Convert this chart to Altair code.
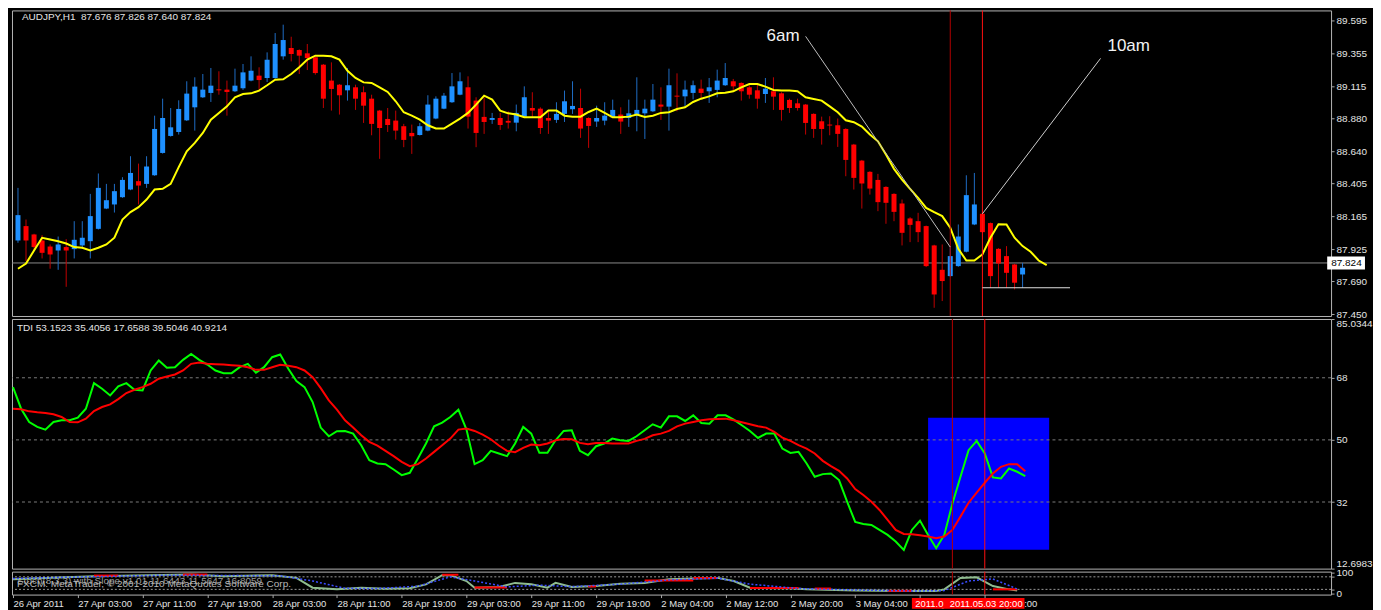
import altair as alt
import pandas as pd

# ---------------- data ----------------
opens = [87.988, 88.093, 88.032, 87.988, 87.944, 87.915, 87.940, 87.925, 87.952, 87.983,
         88.073, 88.221, 88.251, 88.304, 88.360, 88.421, 88.401, 88.464, 88.627, 88.751,
         88.780, 88.865, 88.960, 89.033, 89.065, 89.091, 89.089, 89.077, 89.099, 89.155,
         89.191, 89.174, 89.174, 89.332, 89.393, 89.378, 89.354, 89.325, 89.271, 89.155,
         89.125, 89.084, 89.106, 89.070, 89.023, 88.936, 88.875, 88.863, 88.822, 88.773,
         88.758, 88.790, 88.878, 88.950, 88.997, 89.052, 89.106, 89.009, 88.890, 88.868,
         88.882, 88.861, 88.848, 88.892, 88.955, 88.950, 88.882, 88.868, 88.912, 88.946,
         88.955, 88.882, 88.856, 88.863, 88.887, 88.907, 88.882, 88.902, 88.916, 88.931,
         88.980, 88.965, 89.045, 89.040, 89.065, 89.096, 89.077, 89.087, 89.121, 89.150,
         89.138, 89.106, 89.084, 89.057, 89.077, 89.062, 89.014, 88.989, 88.980, 88.912,
         88.858, 88.834, 88.829, 88.802, 88.688, 88.571, 88.489, 88.430, 88.379, 88.328,
         88.258, 88.149, 88.129, 88.093, 87.952, 87.774, 87.728, 87.801, 87.906, 88.105,
         88.183, 88.115, 87.927, 87.874, 87.813, 87.740]
highs = [88.372, 88.141, 88.037, 88.027, 87.959, 88.017, 87.998, 88.129, 88.129, 88.328,
         88.477, 88.401, 88.401, 88.450, 88.603, 88.549, 88.603, 88.899, 89.023, 88.955,
         89.011, 89.150, 89.179, 89.203, 89.247, 89.223, 89.155, 89.242, 89.276, 89.332,
         89.252, 89.361, 89.502, 89.563, 89.475, 89.383, 89.422, 89.330, 89.276, 89.288,
         89.130, 89.247, 89.125, 89.113, 89.052, 88.941, 88.955, 88.936, 88.839, 88.834,
         88.846, 89.048, 89.040, 89.065, 89.210, 89.215, 89.186, 89.033, 89.033, 88.919,
         88.919, 88.931, 88.980, 89.113, 89.070, 88.960, 88.931, 88.997, 89.082, 89.150,
         89.096, 88.887, 88.972, 88.997, 89.016, 88.960, 89.016, 89.179, 89.016, 89.130,
         89.106, 89.242, 89.208, 89.155, 89.155, 89.162, 89.174, 89.235, 89.283, 89.167,
         89.142, 89.121, 89.130, 89.174, 89.179, 89.070, 89.023, 89.023, 88.984, 88.916,
         88.892, 88.895, 88.878, 88.807, 88.693, 88.576, 88.494, 88.474, 88.384, 88.333,
         88.287, 88.158, 88.190, 88.097, 87.957, 87.959, 87.947, 88.105, 88.464, 88.481,
         88.188, 88.119, 87.932, 87.947, 87.818, 87.825]
lows = [87.971, 87.837, 87.910, 87.857, 87.782, 87.774, 87.650, 87.857, 87.930, 87.857,
        88.068, 88.217, 88.192, 88.299, 88.355, 88.251, 88.372, 88.460, 88.622, 88.746,
        88.761, 88.860, 88.790, 89.028, 88.999, 89.052, 88.899, 89.072, 89.087, 89.150,
        89.089, 89.145, 89.169, 89.308, 89.295, 89.203, 89.232, 89.198, 88.955, 88.936,
        88.907, 89.009, 88.941, 88.846, 88.756, 88.584, 88.780, 88.724, 88.669, 88.620,
        88.754, 88.785, 88.873, 88.946, 88.992, 89.048, 88.805, 88.669, 88.766, 88.839,
        88.795, 88.805, 88.785, 88.887, 88.882, 88.766, 88.766, 88.846, 88.853, 88.912,
        88.737, 88.664, 88.817, 88.829, 88.882, 88.766, 88.817, 88.785, 88.729, 88.926,
        88.868, 88.790, 88.931, 88.967, 89.018, 89.023, 88.992, 89.033, 89.116, 89.077,
        89.009, 89.023, 88.950, 88.992, 88.941, 88.863, 88.919, 88.936, 88.761, 88.737,
        88.688, 88.756, 88.671, 88.457, 88.360, 88.221, 88.323, 88.202, 88.110, 88.129,
        87.952, 87.976, 87.976, 87.794, 87.497, 87.546, 87.723, 87.796, 87.901, 88.100,
        88.044, 87.643, 87.643, 87.643, 87.631, 87.643]
closes = [88.173, 87.988, 87.940, 87.898, 87.886, 87.959, 87.915, 87.993, 88.008, 88.166,
          88.372, 88.282, 88.348, 88.430, 88.481, 88.389, 88.528, 88.802, 88.882, 88.814,
          88.948, 89.060, 89.111, 89.089, 89.118, 89.084, 89.072, 89.118, 89.215, 89.227,
          89.159, 89.308, 89.422, 89.451, 89.349, 89.337, 89.320, 89.210, 89.023, 89.094,
          89.048, 89.121, 89.023, 88.972, 88.839, 88.809, 88.831, 88.790, 88.722, 88.749,
          88.822, 88.980, 89.023, 89.045, 89.113, 89.150, 88.892, 88.773, 88.853, 88.882,
          88.831, 88.848, 88.919, 89.033, 88.936, 88.809, 88.863, 88.912, 89.004, 88.970,
          88.805, 88.824, 88.882, 88.899, 88.941, 88.856, 88.916, 88.941, 88.950, 89.016,
          88.965, 89.121, 89.038, 89.089, 89.121, 89.065, 89.106, 89.155, 89.174, 89.113,
          89.077, 89.052, 89.023, 89.096, 89.038, 88.941, 88.955, 88.955, 88.846, 88.802,
          88.802, 88.827, 88.766, 88.576, 88.445, 88.404, 88.367, 88.268, 88.263, 88.197,
          88.044, 88.102, 88.049, 87.801, 87.594, 87.692, 87.874, 88.017, 88.319, 88.251,
          88.049, 87.728, 87.820, 87.752, 87.680, 87.789]
# shifted moving average (runs 3 bars past the last candle)
ma_values = [87.782, 87.820, 87.915, 88.008, 87.995, 87.983, 87.966, 87.940, 87.935, 87.915,
             87.935, 87.959, 88.008, 88.141, 88.195, 88.231, 88.287, 88.360, 88.365, 88.401,
             88.523, 88.639, 88.700, 88.773, 88.870, 88.919, 88.967, 89.033, 89.057, 89.062,
             89.082, 89.121, 89.162, 89.164, 89.203, 89.252, 89.308, 89.337, 89.337, 89.332,
             89.308, 89.227, 89.174, 89.142, 89.138, 89.106, 89.072, 89.004, 88.924, 88.899,
             88.870, 88.829, 88.805, 88.805, 88.841, 88.878, 88.919, 88.980, 89.045, 89.016,
             88.936, 88.916, 88.907, 88.887, 88.887, 88.887, 88.936, 88.936, 88.899, 88.892,
             88.892, 88.926, 88.950, 88.919, 88.887, 88.887, 88.892, 88.907, 88.890, 88.899,
             88.919, 88.924, 88.948, 88.960, 88.999, 89.023, 89.040, 89.062, 89.067, 89.077,
             89.106, 89.130, 89.130, 89.111, 89.087, 89.082, 89.082, 89.077, 89.033, 89.021,
             89.009, 88.967, 88.924, 88.865, 88.851, 88.819, 88.761, 88.712, 88.615, 88.511,
             88.433, 88.365, 88.299, 88.226, 88.195, 88.166, 88.081, 87.927, 87.842, 87.842,
             87.886, 88.008, 88.107, 88.105, 88.008, 87.947, 87.906, 87.842, 87.808]
price_ticks = [89.595, 89.355, 89.115, 88.880, 88.640, 88.405, 88.165, 87.925, 87.690, 87.450]
last_price = 87.824

tdi_green = [65.30, 59.04, 55.19, 53.75, 52.98, 55.19, 55.67, 55.67, 56.44, 59.04,
             66.45, 64.82, 62.89, 65.49, 66.45, 64.53, 64.34, 70.11, 73.00, 70.88,
             71.07, 73.19, 74.92, 73.19, 71.84, 70.11, 69.34, 69.34, 71.07, 72.04,
             69.44, 71.07, 73.96, 74.73, 70.59, 67.03, 65.30, 60.97, 53.56, 51.05,
             52.50, 52.59, 51.82, 48.46, 44.12, 43.16, 42.97, 41.43, 39.79, 40.47,
             44.61, 48.94, 53.94, 55.00, 56.64, 58.75, 52.98, 42.97, 44.12, 46.82,
             46.05, 45.28, 48.94, 53.75, 51.82, 46.24, 46.24, 49.90, 52.59, 52.79,
             46.82, 45.57, 48.17, 48.94, 50.38, 49.90, 49.71, 51.05, 52.79, 54.52,
             53.56, 56.83, 56.83, 55.48, 57.12, 54.90, 54.71, 57.12, 57.12, 55.87,
             54.23, 52.59, 50.57, 51.82, 51.82, 47.49, 46.24, 46.53, 43.16, 39.31,
             40.08, 40.27, 38.35, 32.09, 26.22, 25.64, 25.36, 23.91, 22.47, 20.54,
             18.14, 23.91, 26.61, 22.47, 18.62, 22.47, 31.50, 39.31, 47.01, 49.71,
             46.05, 39.12, 38.83, 41.72, 40.76, 39.50]
tdi_red = [59.04, 58.85, 58.27, 57.98, 57.79, 57.41, 56.64, 55.19, 55.10, 56.16,
           58.37, 59.52, 60.29, 61.83, 63.57, 64.53, 65.30, 66.26, 67.71, 68.38,
           68.96, 70.11, 72.04, 72.42, 72.04, 71.94, 71.84, 71.65, 71.46, 71.07,
           70.30, 70.30, 71.07, 71.75, 71.46, 71.07, 70.11, 68.19, 65.01, 61.45,
           58.75, 55.67, 53.56, 51.34, 49.42, 48.36, 46.82, 45.28, 43.64, 42.39,
           42.97, 44.61, 46.53, 48.46, 50.38, 52.98, 53.27, 52.59, 51.54, 50.19,
           48.36, 46.82, 46.43, 47.69, 48.65, 48.46, 48.94, 49.90, 50.28, 50.19,
           49.13, 48.74, 49.13, 49.13, 48.94, 48.94, 48.94, 49.71, 50.28, 51.34,
           51.82, 52.59, 53.94, 54.71, 55.19, 55.67, 55.96, 56.06, 56.16, 55.67,
           55.10, 54.52, 53.94, 53.56, 52.31, 50.67, 49.71, 48.46, 47.49, 46.05,
           43.93, 42.39, 41.04, 38.83, 35.75, 34.02, 32.09, 29.69, 26.80, 23.91,
           22.76, 22.66, 22.37, 21.99, 21.51, 21.99, 23.91, 27.76, 31.80, 34.69,
           37.58, 40.27, 42.20, 42.97, 42.97, 40.92]
tdi_levels = [32, 50, 68]
tdi_ticks = [12.6983, 32, 50, 68, 85.0344]

stoch_i = [1, 5, 11, 16, 23, 27, 33, 36, 38, 41, 44, 47, 50, 52, 54, 55, 57, 58, 61, 63,
           65, 67, 68, 70, 73, 76, 79, 82, 85, 88, 90, 92, 97, 99, 105, 110, 115, 116, 118, 120,
           122, 124, 125]
stoch_v = [68, 75, 83, 87, 91, 83, 88, 75, 28, 20, 28, 23, 25, 44, 88, 88, 60, 28, 31, 51,
           44, 28, 51, 31, 36, 47, 51, 68, 72, 75, 60, 28, 25, 20, 15, 12, 12, 20, 75, 78,
           36, 20, 15]
signal_i = [1, 10, 20, 28, 34, 38, 42, 46, 51, 55, 58, 62, 66, 70, 76, 82, 88, 92, 98, 105,
            112, 116, 119, 122, 125]
signal_v = [72, 80, 88, 86, 85, 60, 25, 24, 35, 80, 60, 32, 40, 33, 45, 65, 74, 45, 24, 17,
            12, 14, 60, 70, 22]
red_seg_start = [11, 22, 54, 58, 72, 79, 85, 92, 100, 109, 122]
red_seg_end = [14, 25, 56, 62, 73, 85, 88, 98, 102, 112, 125]
red_seg_val = [86, 91, 90, 29, 34, 62, 74, 27, 24, 13, 20]
stoch_levels = [20, 80]
stoch_ticks = [0, 20, 80, 100]

tick_idx = [1, 9, 17, 25, 33, 41, 49, 57, 65, 73, 81, 89, 97, 105, 113, 121]
tick_labels = ["26 Apr 2011", "27 Apr 03:00", "27 Apr 11:00", "27 Apr 19:00", "28 Apr 03:00",
               "28 Apr 11:00", "28 Apr 19:00", "29 Apr 03:00", "29 Apr 11:00", "29 Apr 19:00",
               "2 May 04:00", "2 May 12:00", "2 May 20:00", "3 May 04:00", "3 May 12:00",
               "3 May 20:00"]
vline_idx = [117, 121]
vline_color = ["#b40000", "#ff1010"]

# ---------------- layout / style ----------------
FONT = "Liberation Sans"
W = 1321
X_DOMAIN = [0.877, 163.76]
xs = alt.Scale(domain=X_DOMAIN, nice=False, zero=False)
LABEL_COLOR = "#e4e4e4"

n = len(opens)
candles = pd.DataFrame({"i": list(range(1, n + 1)), "open": opens, "high": highs,
                        "low": lows, "close": closes})
ma_df = pd.DataFrame({"i": list(range(1, len(ma_values) + 1)), "v": ma_values})
vlines = pd.DataFrame({"i": vline_idx, "c": vline_color})

# ---- top panel (price) ----
p_scale = alt.Scale(domain=[87.437, 89.667], nice=False, zero=False)
p_axis = alt.Axis(orient="right", values=price_ticks, format=".3f", labelFontSize=10,
                  tickSize=3, labelPadding=2, labelFlush=False, title=None)


def XP(f):
    return alt.X(f, scale=xs, axis=None, title=None)


def YP(f):
    return alt.Y(f, scale=p_scale, axis=p_axis, title=None)


price_line = alt.Chart(pd.DataFrame({"p": [last_price]})).mark_rule(
    color="#8a8a8a", strokeWidth=1).encode(y=YP("p:Q"))
wicks = alt.Chart(candles).mark_rule(strokeWidth=1).encode(
    x=XP("i:Q"), y=YP("low:Q"), y2="high:Q",
    color=alt.condition("datum.close >= datum.open", alt.value("#1f6cc4"), alt.value("#c00000")))
bodies = alt.Chart(candles).mark_bar(size=5).encode(
    x=XP("i:Q"), y=YP("open:Q"), y2="close:Q",
    color=alt.condition("datum.close >= datum.open", alt.value("#1e90ff"), alt.value("#ff0000")))
ma_line = alt.Chart(ma_df).mark_line(color="#ffff00", strokeWidth=2).encode(
    x=XP("i:Q"), y=YP("v:Q"))
vl_top = alt.Chart(vlines).mark_rule(strokeWidth=1).encode(
    x=XP("i:Q"), color=alt.Color("c:N", scale=None))
trend_df = pd.DataFrame({"x": [99.0, 121.0, 121.0], "x2": [117.0, 135.7, 131.9],
                         "y": [89.478, 88.183, 87.643], "y2": [87.940, 89.317, 87.643],
                         "c": ["#bdbdbd", "#cfcfcf", "#e0e0e0"]})
trends = alt.Chart(trend_df).mark_rule(strokeWidth=1).encode(
    x=XP("x:Q"), x2="x2:Q", y=YP("y:Q"), y2="y2:Q", color=alt.Color("c:N", scale=None))
notes_df = pd.DataFrame({"x": [96.2, 139.2], "y": [89.478, 89.405], "t": ["6am", "10am"]})
notes = alt.Chart(notes_df).mark_text(font=FONT, fontSize=17, color="#f2f2f2",
                                      align="center", baseline="middle").encode(
    x=XP("x:Q"), y=YP("y:Q"), text="t:N")
head_df = pd.DataFrame({"x": [1.49], "y": [89.616],
                        "t": ["AUDJPY,H1\u00a0 87.676 87.826 87.640 87.824"]})
head = alt.Chart(head_df).mark_text(font=FONT, fontSize=10, color=LABEL_COLOR,
                                    align="left", baseline="middle").encode(
    x=XP("x:Q"), y=YP("y:Q"), text="t:N")
cur_box = alt.Chart(pd.DataFrame({"x": [163.9], "x2": [168.6], "y": [87.777], "y2": [87.871]})
                    ).mark_rect(color="#ffffff").encode(x=XP("x:Q"), x2="x2:Q", y=YP("y:Q"), y2="y2:Q")
cur_txt = alt.Chart(pd.DataFrame({"x": [164.4], "y": [last_price], "t": ["87.824"]})).mark_text(
    font=FONT, fontSize=10, color="#000000", align="left", baseline="middle").encode(
    x=XP("x:Q"), y=YP("y:Q"), text="t:N")

top = alt.layer(price_line, wicks, bodies, ma_line, vl_top, trends, notes, head,
                cur_box, cur_txt).properties(width=W, height=306)

# ---- TDI panel ----
t_scale = alt.Scale(domain=[12.6983, 85.0344], nice=False, zero=False)
t_axis = alt.Axis(orient="right", values=tdi_ticks, labelFontSize=10, tickSize=3, labelPadding=2,
                  labelFlush=True, title=None,
                  labelExpr="(datum.value > 84 || datum.value < 13) ? format(datum.value, '.4f') : format(datum.value, '.0f')")


def YT(f):
    return alt.Y(f, scale=t_scale, axis=t_axis, title=None)


tdi_df = pd.DataFrame({"i": list(range(1, n + 1)), "g": tdi_green, "r": tdi_red})
box = alt.Chart(pd.DataFrame({"x": [114.0], "x2": [128.95], "y": [56.45], "y2": [18.2]})).mark_rect(
    color="#0000ff").encode(x=XP("x:Q"), x2="x2:Q", y=YT("y:Q"), y2="y2:Q")
t_lev = alt.Chart(pd.DataFrame({"v": tdi_levels})).mark_rule(
    color="#7a7a7a", strokeDash=[3, 3], strokeWidth=1).encode(y=YT("v:Q"))
g_line = alt.Chart(tdi_df).mark_line(color="#00ff00", strokeWidth=2).encode(x=XP("i:Q"), y=YT("g:Q"))
r_line = alt.Chart(tdi_df).mark_line(color="#ff0000", strokeWidth=2).encode(x=XP("i:Q"), y=YT("r:Q"))
vl_tdi = alt.Chart(vlines).mark_rule(strokeWidth=1).encode(
    x=XP("i:Q"), color=alt.Color("c:N", scale=None))
tdi_head = alt.Chart(pd.DataFrame({"x": [1.49], "y": [82.44],
                                   "t": ["TDI 53.1523 35.4056 17.6588 39.5046 40.9214"]})).mark_text(
    font=FONT, fontSize=10, color=LABEL_COLOR, align="left", baseline="middle").encode(
    x=XP("x:Q"), y=YT("y:Q"), text="t:N")
tdi = alt.layer(box, t_lev, g_line, r_line, vl_tdi, tdi_head).properties(width=W, height=250)

# ---- bottom panel ----
time_expr = " : ".join(f"datum.value == {i} ? '{lab}'" for i, lab in zip(tick_idx, tick_labels)) + " : ''"
x_axis = alt.Axis(values=tick_idx, labelExpr=time_expr, labelAlign="left", labelFontSize=9.5,
                  labelPadding=1, tickSize=3, labelFlush=False, labelOverlap=False, title=None,
                  labelBaseline="top")
s_scale = alt.Scale(domain=[-5, 105], nice=False, zero=False)
s_axis = alt.Axis(orient="right", values=stoch_ticks, labelFontSize=10, tickSize=3, labelPadding=2,
                  labelFlush=False, title=None)


def XB(f):
    return alt.X(f, scale=xs, axis=x_axis, title=None)


def YS(f):
    return alt.Y(f, scale=s_scale, axis=s_axis, title=None)


s_lev = alt.Chart(pd.DataFrame({"v": stoch_levels})).mark_rule(
    color="#9a9a9a", strokeDash=[2, 2], strokeWidth=1).encode(y=YS("v:Q"))
s_txt = alt.Chart(pd.DataFrame({"x": [1.49, 1.49], "y": [62.0, 47.6],
                                "t": ["Stoch(8,3,3) with Slope v1.01 11.6443 11.5647 16.8059",
                                      "FXCM: MetaTrader, \u00a9 2001-2010 MetaQuotes Software Corp."],
                                "c": ["#9c9c9c", "#b8b8b8"]})).mark_text(
    font=FONT, fontSize=10, align="left", baseline="middle").encode(
    x=XB("x:Q"), y=YS("y:Q"), text="t:N", color=alt.Color("c:N", scale=None))
s_line = alt.Chart(pd.DataFrame({"i": stoch_i, "v": stoch_v})).mark_line(
    color="#8fbc8f", strokeWidth=2).encode(x=XB("i:Q"), y=YS("v:Q"))
s_red = alt.Chart(pd.DataFrame({"x": red_seg_start, "x2": red_seg_end, "y": red_seg_val})).mark_rule(
    color="#ff0000", strokeWidth=2).encode(x=XB("x:Q"), x2="x2:Q", y=YS("y:Q"))
s_sig = alt.Chart(pd.DataFrame({"i": signal_i, "v": signal_v})).mark_line(
    color="#3a4cff", strokeWidth=1.5, strokeDash=[2, 2]).encode(x=XB("i:Q"), y=YS("v:Q"))
vl_bot = alt.Chart(vlines).mark_rule(strokeWidth=1).encode(
    x=XB("i:Q"), color=alt.Color("c:N", scale=None))
lab_box = alt.Chart(pd.DataFrame({"x": [112.0], "x2": [125.9], "y": [-20.8], "y2": [-73.4]})).mark_rect(
    color="#ff0000").encode(x=XB("x:Q"), x2="x2:Q", y=YS("y:Q"), y2="y2:Q")
lab_txt = alt.Chart(pd.DataFrame({"x": [112.4, 116.66], "y": [-48.0, -48.0],
                                  "t": ["2011.0", "2011.05.03 20:00"]})).mark_text(
    font=FONT, fontSize=9.5, color="#ffffff", align="left", baseline="middle").encode(
    x=XB("x:Q"), y=YS("y:Q"), text="t:N")
bot = alt.layer(s_lev, s_txt, s_line, s_red, s_sig, vl_bot, lab_box, lab_txt).properties(
    width=W, height=23)

chart = alt.vconcat(top, tdi, bot, spacing=3, bounds="flush").properties(
    background="#000000",
    padding={"left": 0, "top": 1, "right": 0, "bottom": 0},
).configure_view(
    stroke="#b4b4b4", strokeWidth=1
).configure_axis(
    labelFont=FONT, labelColor=LABEL_COLOR, tickColor="#a8a8a8", domain=False, grid=False
).configure_axisRight(
    minExtent=39, maxExtent=39
)

chart.save("out.html", embed_options={"renderer": "svg", "actions": False})
